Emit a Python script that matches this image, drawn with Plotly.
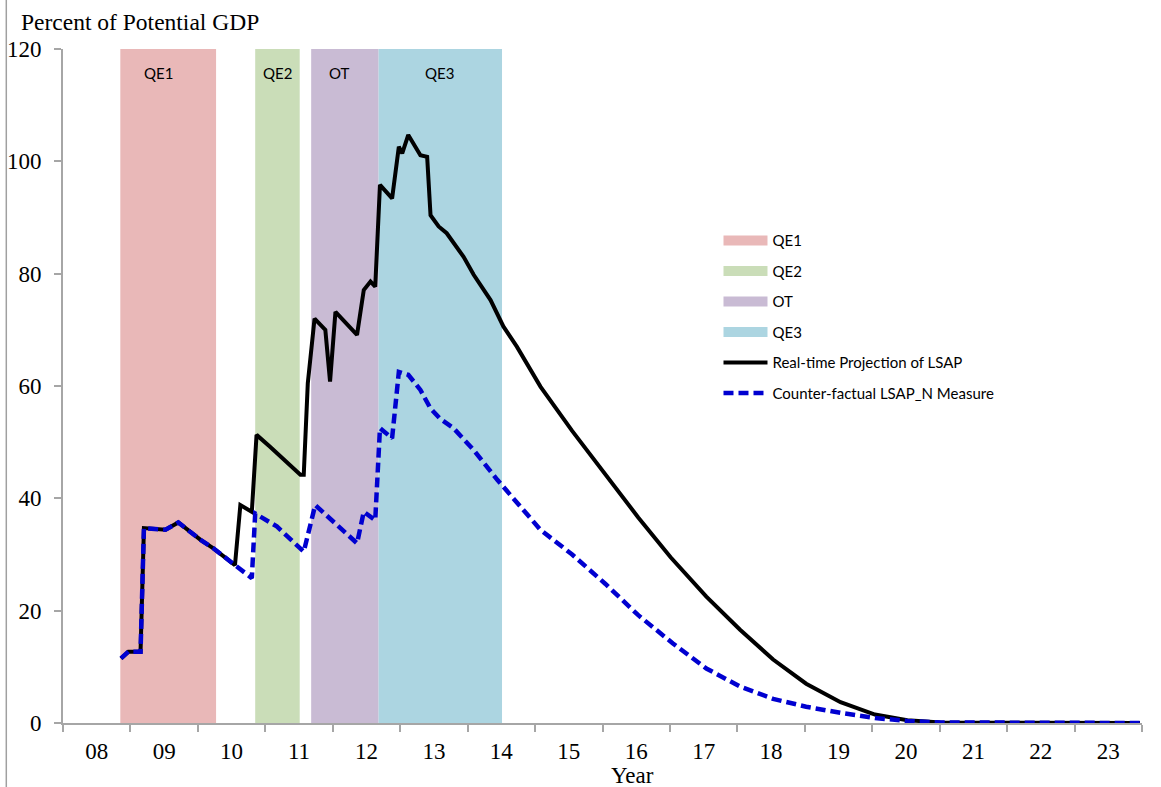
import plotly.graph_objects as go

# Policy episodes: name, start and end (decimal years), fill colour
band_names = ["QE1", "QE2", "OT", "QE3"]
band_start = [2008.85, 2010.85, 2011.68, 2012.68]
band_end = [2010.27, 2011.51, 2012.68, 2014.51]
band_colors = ["#E9B8B8", "#CADDB8", "#C9BBD4", "#ACD5E1"]
band_label_x = [2009.42, 2011.18, 2012.10, 2013.59]

# Real-time projection of LSAP (percent of potential GDP)
real_x = [2008.86, 2008.97, 2009.15, 2009.20, 2009.52, 2009.71, 2010.04, 2010.23,
          2010.55, 2010.63, 2010.80, 2010.87, 2011.07, 2011.32, 2011.52, 2011.57,
          2011.63, 2011.73, 2011.89, 2011.96, 2012.04, 2012.36, 2012.46, 2012.56,
          2012.63, 2012.70, 2012.88, 2012.98, 2013.03, 2013.12, 2013.30, 2013.40,
          2013.45, 2013.57, 2013.69, 2013.94, 2014.09, 2014.34, 2014.53, 2014.73,
          2014.93, 2015.08, 2015.55, 2015.97, 2016.53, 2017.01, 2017.54, 2018.04,
          2018.53, 2019.02, 2019.53, 2020.04, 2020.52, 2021.01, 2023.97]
real_y = [11.5, 12.7, 12.7, 34.7, 34.4, 35.7, 32.6, 31.1,
          28.1, 38.8, 37.6, 51.3, 49.2, 46.5, 44.2, 44.2,
          60.5, 72.0, 70.0, 60.8, 73.2, 69.1, 77.1, 78.6,
          77.7, 95.8, 93.4, 102.6, 101.4, 104.7, 101.1, 100.8,
          90.4, 88.4, 87.2, 83.0, 79.8, 75.3, 70.6, 67.0,
          63.1, 59.9, 52.0, 45.5, 36.6, 29.5, 22.5, 16.6,
          11.3, 7.0, 3.7, 1.5, 0.5, 0.1, 0.0]

# Counter-factual LSAP_N measure
cf_x = [2008.86, 2008.97, 2009.15, 2009.20, 2009.52, 2009.71, 2010.04, 2010.23,
        2010.55, 2010.80, 2010.85, 2011.17, 2011.57, 2011.74, 2012.36, 2012.46,
        2012.63, 2012.70, 2012.88, 2012.98, 2013.12, 2013.30, 2013.45, 2013.59,
        2013.79, 2014.09, 2014.44, 2014.78, 2015.08, 2015.55, 2016.04, 2016.53,
        2017.04, 2017.54, 2018.04, 2018.53, 2019.02, 2019.53, 2020.04, 2020.52,
        2021.01, 2023.97]
cf_y = [11.5, 12.7, 12.7, 34.7, 34.4, 35.7, 32.6, 31.1,
        28.1, 25.8, 37.3, 35.0, 30.5, 38.8, 32.0, 37.6,
        36.1, 52.5, 50.7, 62.5, 62.0, 59.3, 56.0, 54.2,
        52.5, 48.6, 43.3, 38.5, 34.4, 30.0, 24.8, 19.2,
        14.2, 9.7, 6.5, 4.3, 2.9, 1.8, 0.9, 0.35,
        0.1, 0.0]

year_labels = ["08", "09", "10", "11", "12", "13", "14", "15",
               "16", "17", "18", "19", "20", "21", "22", "23"]

SERIF = "Liberation Serif"
SANS = "Lato"
AXIS_GRAY = "#A6A6A6"

fig = go.Figure()

# Shaded episode bands (legend swatches are added separately below)
for name, x0, x1, col in zip(band_names, band_start, band_end, band_colors):
    fig.add_trace(go.Scatter(
        x=[x0, x0, x1, x1, x0], y=[0, 120, 120, 0, 0],
        mode="lines", fill="toself", fillcolor=col,
        line=dict(width=0, color=col), hoverinfo="skip", showlegend=False,
    ))

for name, col in zip(band_names, band_colors):
    fig.add_trace(go.Scatter(
        x=[None], y=[None], mode="lines", name=name,
        line=dict(color=col, width=11), legendgroup=name,
    ))

fig.add_trace(go.Scatter(
    x=real_x, y=real_y, mode="lines", name="Real-time Projection of LSAP",
    line=dict(color="#000000", width=4), legendgroup="real",
))
fig.add_trace(go.Scatter(
    x=cf_x, y=cf_y, mode="lines", name="Counter-factual LSAP_N Measure",
    line=dict(color="#0000D0", width=4.5, dash="10px,5px"), legendgroup="cf",
))

for name, lx in zip(band_names, band_label_x):
    fig.add_annotation(x=lx, y=115.7, text=name, showarrow=False,
                       font=dict(family=SANS, size=15, color="#000000"))

tick_pos = [2008.5 + i for i in range(len(year_labels))]

fig.update_layout(
    width=1161, height=787,
    margin=dict(l=62.7, r=19.3, t=49, b=64, autoexpand=False),
    plot_bgcolor="white", paper_bgcolor="white",
    showlegend=True,
    legend=dict(
        x=0.6075, y=0.740, xanchor="left", yanchor="top",
        font=dict(family=SANS, size=15, color="#000000"),
        bgcolor="rgba(0,0,0,0)", traceorder="grouped", tracegroupgap=8,
        itemwidth=44,
    ),
    xaxis=dict(
        range=[2008, 2024], showgrid=False, zeroline=False, automargin=False,
        showline=True, linecolor=AXIS_GRAY, linewidth=2,
        tickvals=tick_pos, ticktext=year_labels, ticks="",
        ticklabelstandoff=6,
        tickfont=dict(family=SERIF, size=23, color="#000000"),
        minor=dict(tick0=2008, dtick=1, ticks="outside", ticklen=7,
                   tickcolor=AXIS_GRAY, tickwidth=2, showgrid=False),
    ),
    yaxis=dict(
        range=[0, 120], showgrid=False, zeroline=False, automargin=False,
        showline=True, linecolor=AXIS_GRAY, linewidth=2,
        tickvals=[0, 20, 40, 60, 80, 100, 120], ticks="outside", ticklen=7,
        tickcolor=AXIS_GRAY, tickwidth=2, ticklabelstandoff=8,
        tickfont=dict(family=SERIF, size=23, color="#000000"),
    ),
)

fig.add_annotation(xref="paper", yref="paper", x=(19 - 62.7) / 1079, y=(723 - 22) / 674,
                   xanchor="left", yanchor="middle", showarrow=False,
                   text="Percent of Potential GDP",
                   font=dict(family=SERIF, size=23.5, color="#000000"))
fig.add_annotation(xref="paper", yref="paper", x=(632 - 62.7) / 1079, y=(723 - 776) / 674,
                   xanchor="center", yanchor="middle", showarrow=False,
                   text="Year", font=dict(family=SERIF, size=23, color="#000000"))

# Chart-area border on the left edge
fig.add_shape(type="line", xref="paper", yref="paper",
              x0=(6 - 62.7) / 1079, x1=(6 - 62.7) / 1079,
              y0=(723 - 787) / 674, y1=723 / 674,
              line=dict(color="#A0A0A0", width=1.5))

fig.write_html("out.html")
